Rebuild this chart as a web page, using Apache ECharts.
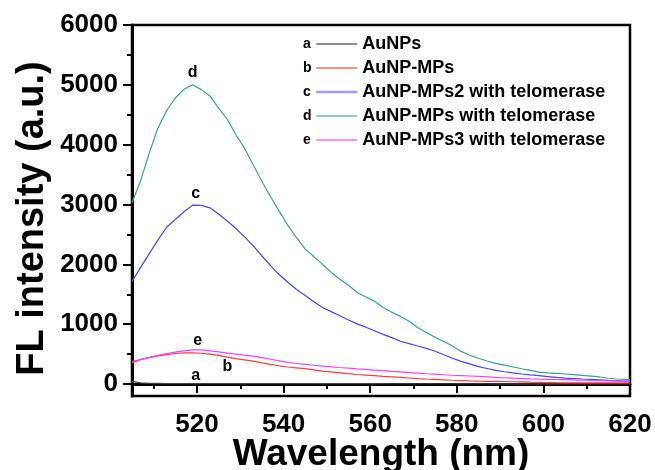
<!DOCTYPE html>
<html>
<head>
<meta charset="utf-8">
<script src="https://cdn.jsdelivr.net/npm/echarts@6/dist/echarts.min.js"></script>
<style>
html,body{margin:0;padding:0;background:#fff;}
#chart{width:655px;height:470px;}
</style>
</head>
<body>
<div id="chart"></div>
<script>
// Wavelength grid (nm)
const wavelengths = [505,507,509,511,513,515,517,519,521,523,525,527,529,531,533,535,537,539,541,543,545,547,549,551,553,555,557,559,561,563,565,567,569,571,573,575,577,579,581,583,585,587,589,591,593,595,597,599,601,603,605,607,609,611,613,615,617,619,620];

// a: AuNPs
const valuesA = [45,20,12,10,8,8,8,8,8,8,8,7,7,7,7,7,7,7,7,6,6,6,6,6,6,6,6,6,6,6,5,5,5,5,5,5,5,5,5,5,5,5,4,4,4,4,4,4,4,4,4,4,4,3,3,3,3,3,3];
// b: AuNP-MPs
const valuesB = [354,409,440,470,490,510,521,521,514,500,478,450,424,403,382,355,330,305,285,270,258,237,216,202,188,173,159,149,139,128,119,110,101,92,84,77,70,63,58,52,47,45,45,42,38,35,31,28,25,22,20,20,20,20,20,20,20,20,20];
// c: AuNP-MPs2 with telomerase
const valuesC = [1716,1950,2180,2410,2620,2750,2880,2990,2985,2945,2840,2725,2600,2460,2310,2140,1980,1825,1700,1580,1480,1375,1280,1210,1140,1070,1005,950,890,830,775,715,675,635,595,548,490,430,378,337,290,260,228,205,185,168,153,139,125,110,100,92,84,77,70,62,56,50,47];
// d: AuNP-MPs with telomerase
const valuesD = [3030,3400,3865,4280,4570,4780,4925,5000,4920,4815,4610,4425,4165,3940,3660,3390,3130,2890,2650,2445,2255,2130,2000,1865,1750,1650,1530,1455,1385,1280,1200,1130,1050,940,860,780,710,635,545,482,430,385,345,315,285,255,227,200,188,178,168,158,146,133,118,97,84,78,75];
// e: AuNP-MPs3 with telomerase
const valuesE = [381,409,445,480,507,533,554,570,570,555,538,517,500,482,465,440,414,388,362,343,330,314,299,288,276,265,254,244,233,223,212,202,192,182,172,164,155,147,141,134,127,120,112,105,98,92,86,82,79,76,73,70,66,60,56,53,50,48,47];

const seriesNames = ['AuNPs','AuNP-MPs','AuNP-MPs2 with telomerase','AuNP-MPs with telomerase','AuNP-MPs3 with telomerase'];
const seriesLetters = ['a','b','c','d','e'];
const seriesColors = ['#444444','#ff3b3b','#4646ff','#3d9e97','#ff3cff'];
const legendColors = ['#6a6a6a','#f26a6a','#9a9aff','#6cbab4','#ff6cff'];
// wavelength at which each curve letter is drawn
const letterAt = [519,527,519,519,519];

const yTicks = [0,1000,2000,3000,4000,5000,6000];
const yMinorTicks = [500,1500,2500,3500,4500,5500];
const xTicks = [520,540,560,580,600,620];
const xMinorTicks = [510,530,550,570,590,610];

const allValues = [valuesA,valuesB,valuesC,valuesD,valuesE];
const FONT = '"Liberation Sans", Arial, sans-serif';

const letterLabel = [
  {position:'top', distance:0, offset:[3,0]},
  {position:'bottom', distance:1, offset:[0,0]},
  {position:'top', distance:4, offset:[3,0]},
  {position:'top', distance:4, offset:[0,0]},
  {position:'top', distance:1, offset:[5,0]}
];

const series = allValues.map((vals, si) => ({
  name: seriesNames[si],
  type: 'line',
  symbol: 'circle',
  symbolSize: 0,
  showSymbol: true,
  showAllSymbol: true,
  smooth: false,
  z: 3,
  lineStyle: {color: seriesColors[si], width: 1.2},
  itemStyle: {color: seriesColors[si]},
  label: {show: false},
  data: wavelengths.map((w, i) => {
    const item = {value: [w, vals[i]]};
    if (w === letterAt[si]) {
      item.label = Object.assign({
        show: true,
        formatter: seriesLetters[si],
        color: '#000',
        fontFamily: FONT,
        fontWeight: 'bold',
        fontSize: 16
      }, letterLabel[si]);
    }
    return item;
  })
}));

const legendLeft = 315, legendTop = 35, rowPitch = 24;
const graphics = seriesLetters.map((l, i) => ({
  type: 'text',
  left: legendLeft - 12,
  top: legendTop + i * rowPitch + 2,
  style: {text: l, font: 'bold 14px ' + FONT, fill: '#000'}
}));

const chart = echarts.init(document.getElementById('chart'), null, {renderer: 'canvas'});
chart.setOption({
  backgroundColor: '#fff',
  animation: false,
  grid: {left: 132, right: 25, top: 25, bottom: 74, show: true, borderColor: '#000', borderWidth: 2.5,
         backgroundColor: 'transparent', containLabel: false, outerBoundsMode: 'none'},
  legend: {
    orient: 'vertical',
    left: legendLeft,
    top: legendTop,
    padding: 0,
    itemWidth: 41,
    itemHeight: 18,
    itemGap: 6,
    selectedMode: false,
    textStyle: {fontFamily: FONT, fontWeight: 'bold', fontSize: 18, color: '#000', padding: [0,0,0,0]},
    data: seriesNames.map((n, i) => ({
      name: n,
      lineStyle: {color: legendColors[i], width: i === 2 ? 2.5 : 1.3, opacity: 1},
      itemStyle: {color: legendColors[i], opacity: 0}
    }))
  },
  graphic: graphics,
  xAxis: [{
    type: 'value', min: 505, max: 620, position: 'bottom',
    name: 'Wavelength (nm)', nameLocation: 'middle', nameGap: 40, nameMoveOverlap: false,
    nameTextStyle: {fontFamily: FONT, fontWeight: 'bold', fontSize: 37, color: '#000'},
    axisLine: {show: true, lineStyle: {color: '#000', width: 3}},
    axisTick: {show: true, inside: false, length: 9, lineStyle: {color: '#000', width: 2}, customValues: xTicks},
    axisLabel: {show: true, customValues: xTicks, margin: 16, fontFamily: FONT, fontWeight: 'bold', fontSize: 26, color: '#000',
                formatter: v => String(v)},
    splitLine: {show: false}
  }, {
    type: 'value', min: 505, max: 620, position: 'bottom', gridIndex: 0,
    axisLine: {show: false},
    axisTick: {show: true, inside: false, length: 5, lineStyle: {color: '#000', width: 2}, customValues: xMinorTicks},
    axisLabel: {show: false},
    splitLine: {show: false}
  }],
  yAxis: [{
    type: 'value', min: -200, max: 6000, position: 'left',
    name: 'FL intensity (a.u.)', nameLocation: 'middle', nameGap: 80, nameMoveOverlap: false,
    nameTextStyle: {fontFamily: FONT, fontWeight: 'bold', fontSize: 38, color: '#000', padding: [0, 16, 0, 0]},
    axisLine: {show: true, lineStyle: {color: '#000', width: 3}},
    axisTick: {show: true, inside: false, length: 9, lineStyle: {color: '#000', width: 2}, customValues: yTicks},
    axisLabel: {show: true, customValues: yTicks, margin: 14, fontFamily: FONT, fontWeight: 'bold', fontSize: 26, color: '#000',
                formatter: v => String(v)},
    splitLine: {show: false}
  }, {
    type: 'value', min: -200, max: 6000, position: 'left', gridIndex: 0,
    axisLine: {show: false},
    axisTick: {show: true, inside: false, length: 5, lineStyle: {color: '#000', width: 2}, customValues: yMinorTicks},
    axisLabel: {show: false},
    splitLine: {show: false}
  }],
  series: series
});
</script>
</body>
</html>
